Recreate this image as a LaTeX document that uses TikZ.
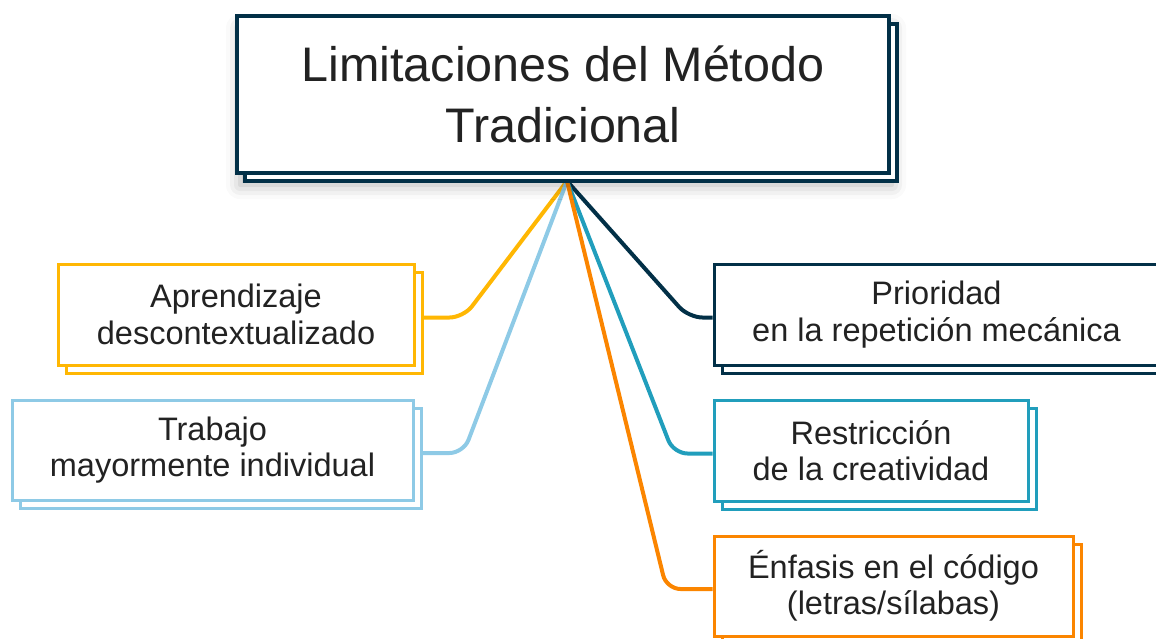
\documentclass[tikz,border=0pt]{standalone}
\usepackage{fontspec}
\setmainfont{Liberation Sans}
\usetikzlibrary{shadows,shadows.blur,calc}
\definecolor{cnavy}{HTML}{023047}
\definecolor{cgold}{HTML}{FFB703}
\definecolor{csky}{HTML}{8ECAE6}
\definecolor{cteal}{HTML}{219EBC}
\definecolor{corange}{HTML}{FB8500}
\definecolor{ctext}{HTML}{222222}
\pgfdeclarelayer{bg}
\pgfsetlayers{bg,main}
\newcommand{\trail}{\hspace{8pt}}
\tikzset{
  box/.style={draw=#1, fill=white, line width=3pt, inner sep=0pt, align=center,
    text=ctext, font=\fontsize{32.5}{36.5}\selectfont, minimum height=101pt,
    copy shadow={shadow xshift=8pt, shadow yshift=-8pt}},
  titlebox/.style={draw=cnavy, fill=white, line width=3.2pt, inner sep=0pt, align=center,
    text=ctext, font=\fontsize{48.5}{61}\selectfont, minimum width=652pt, minimum height=157pt,
    blur shadow={shadow xshift=3pt, shadow yshift=-12pt, shadow blur radius=14pt, shadow opacity=30},
    copy shadow={shadow xshift=8pt, shadow yshift=-8pt}},
  link/.style={draw=#1, line width=4pt, rounded corners=14pt}
}
\begin{document}
\begin{tikzpicture}[x=1pt,y=-1pt]
\useasboundingbox (0,0) rectangle (1156,638);
\clip (0,0) rectangle (1156,638);
\node[titlebox] (title) at (563,94.5) {Limitaciones del Método\\Tradicional};
\node[box=cgold, minimum width=356pt] (apr) at (236,314.5) {Aprendizaje\trail\\descontextualizado\trail};
\node[box=csky, minimum width=401pt, minimum height=100pt] (trab) at (212.5,450) {Trabajo\trail\\mayormente individual\trail};
\node[box=cnavy, minimum width=445pt] (prio) at (936.5,314.5) {Prioridad\trail\\en la repetición mecánica\trail};
\node[box=cteal, minimum width=314pt] (restr) at (871,450.5) {Restricción\trail\\de la creatividad\trail};
\node[box=corange, minimum width=359pt, minimum height=100pt] (enf) at (893.5,586) {Énfasis en el código\trail\\(letras/sílabas)\trail};
\coordinate (hub) at (567,181);
\begin{pgfonlayer}{bg}
\draw[link=cgold] (hub) -- ($(apr.east)+(48,3)$) -- ($(apr.east)+(8,3)$);
\draw[link=csky] (hub) -- ($(trab.east)+(49,3)$) -- ($(trab.east)+(8,3)$);
\draw[link=cnavy] (hub) -- ($(prio.west)+(-24,3)$) -- ($(prio.west)+(0,3)$);
\draw[link=cteal] (hub) -- ($(restr.west)+(-39,3)$) -- ($(restr.west)+(0,3)$);
\draw[link=corange] (hub) -- ($(enf.west)+(-46,3)$) -- ($(enf.west)+(0,3)$);
\end{pgfonlayer}
\end{tikzpicture}
\end{document}
